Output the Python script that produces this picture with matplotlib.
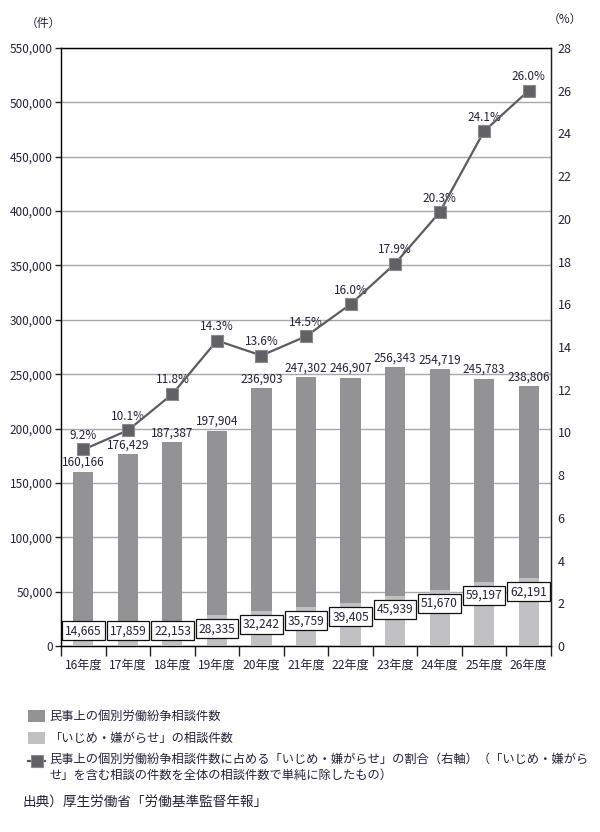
import matplotlib.pyplot as plt
from matplotlib.patches import Rectangle
from matplotlib.lines import Line2D

plt.rcParams['font.family'] = ['Noto Sans CJK JP', 'DejaVu Sans']

years = ['16年度', '17年度', '18年度', '19年度', '20年度', '21年度',
         '22年度', '23年度', '24年度', '25年度', '26年度']
total = [160166, 176429, 187387, 197904, 236903, 247302,
         246907, 256343, 254719, 245783, 238806]
bully = [14665, 17859, 22153, 28335, 32242, 35759,
         39405, 45939, 51670, 59197, 62191]
ratio = [9.2, 10.1, 11.8, 14.3, 13.6, 14.5, 16.0, 17.9, 20.3, 24.1, 26.0]

legend_labels = ['民事上の個別労働紛争相談件数',
                 '「いじめ・嫌がらせ」の相談件数',
                 '民事上の個別労働紛争相談件数に占める「いじめ・嫌がらせ」の割合（右軸）（「いじめ・嫌がら\n'
                 'せ」を含む相談の件数を全体の相談件数で単純に除したもの）']
source = '出典）厚生労働省「労働基準監督年報」'

c_dark = '#939396'
c_light = '#c1c1c4'
c_line = '#5c5c60'
c_text = '#23233a'

fig = plt.figure(figsize=(6, 8.32), dpi=100)
ax = fig.add_axes([0.102, 0.2236, 0.816, 0.7187])
ax2 = ax.twinx()

x = list(range(len(years)))
w = 0.45
ax.bar(x, total, width=w, color=c_dark, zorder=2)
ax.bar(x, bully, width=w, color=c_light, zorder=3)

for xi, t in zip(x, total):
    ax.annotate(f'{t:,}', (xi, t), xytext=(0, 2), textcoords='offset points',
                ha='center', va='bottom', fontsize=8.5, color=c_text, zorder=5)
for xi, b in zip(x, bully):
    ax.text(xi, max(b - 12500, 14000), f'{b:,}', ha='center', va='center',
            fontsize=8.7, color=c_text, zorder=6,
            bbox=dict(boxstyle='square,pad=0.25', fc='white', ec='#111111', lw=0.9))

ax.set_xlim(-0.5, len(years) - 0.5)
ax.set_ylim(0, 550000)
ax.set_yticks(range(0, 550001, 50000))
ax.set_yticklabels([f'{v:,}' for v in range(0, 550001, 50000)], fontsize=8.5, color=c_text)
ax.yaxis.grid(True, color='#a8a8a8', lw=1.0, zorder=0)
ax.set_axisbelow(True)
ax.set_xticks(x)
ax.set_xticklabels(years, fontsize=8.7, color=c_text)
ax.tick_params(axis='x', length=0, pad=9)
ax.set_xticks([i + 0.5 for i in range(-1, len(years))], minor=True)
ax.tick_params(axis='x', which='minor', length=7, width=1, color='#222222')
ax.tick_params(axis='y', length=4, width=1, color='#222222', pad=2)
for s in ['left', 'bottom', 'top', 'right']:
    ax.spines[s].set_color('#222222')
    ax.spines[s].set_linewidth(1.0)

ax2.plot(x, ratio, color=c_line, lw=1.6, marker='s', markersize=9,
         markerfacecolor='#626266', markeredgecolor='#8a8a8e', markeredgewidth=0.8, zorder=4)
for xi, r in zip(x, ratio):
    ax2.annotate(f'{r:.1f}%', (xi, r), xytext=(0, 5.5), textcoords='offset points',
                 ha='center', va='bottom', fontsize=8.5, color=c_text)
ax2.set_ylim(0, 28)
ax2.set_yticks(range(0, 29, 2))
ax2.set_yticklabels([str(v) for v in range(0, 29, 2)], fontsize=9, color=c_text)
ax2.tick_params(axis='y', length=0, pad=5)
ax2.spines['right'].set_color('#222222')
ax2.patch.set_visible(False)

fig.text(0.072, 0.972, '（件）', fontsize=8.5, color=c_text, ha='center', va='center')
fig.text(0.942, 0.977, '（%）', fontsize=8.5, color=c_text, ha='center', va='center')

# legend drawn by hand, the last entry wraps onto two lines
lx = 0.047
rows = [1 - 716 / 832, 1 - 738 / 832, 1 - 761 / 832]
fig.add_artist(Rectangle((lx, rows[0] - 0.0075), 0.028, 0.015, transform=fig.transFigure,
                         fc=c_dark, ec='none'))
fig.add_artist(Rectangle((lx, rows[1] - 0.0075), 0.028, 0.015, transform=fig.transFigure,
                         fc=c_light, ec='none'))
fig.add_artist(Line2D([lx, lx + 0.028], [rows[2], rows[2]], transform=fig.transFigure,
                      color=c_line, lw=1.6))
fig.add_artist(Line2D([lx + 0.014], [rows[2]], transform=fig.transFigure, marker='s',
                      markersize=9, markerfacecolor='#626266', markeredgecolor='#8a8a8e',
                      markeredgewidth=0.8))
fig.text(lx + 0.035, rows[0], legend_labels[0], fontsize=8.8, color=c_text, va='center')
fig.text(lx + 0.035, rows[1], legend_labels[1], fontsize=8.8, color=c_text, va='center')
fig.text(lx + 0.035, rows[2] + 0.0095, legend_labels[2], fontsize=8.8, color=c_text, va='top',
         linespacing=1.3)

fig.text(0.037, 1 - 803 / 832, source, fontsize=9.8, color=c_text, va='center')

fig.savefig('out.png', dpi=100)
